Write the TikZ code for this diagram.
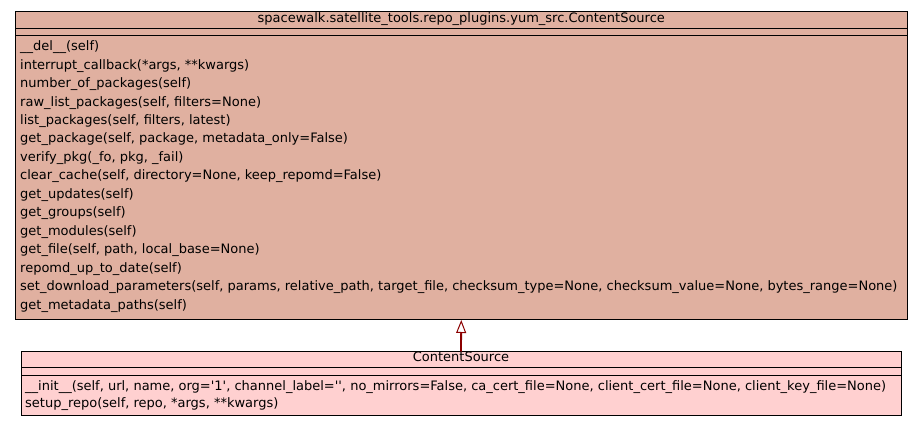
\documentclass[tikz,border=0pt]{standalone}
\usepackage{fontspec}
\setmainfont{DejaVu Sans}
\usetikzlibrary{arrows.meta}
\definecolor{topfill}{HTML}{E0B0A0}
\definecolor{botfill}{HTML}{FFD0D0}
\definecolor{edgecol}{HTML}{8B0000}
\definecolor{boxline}{HTML}{000000}
\tikzset{
  classbox/.style={draw=boxline, line width=1pt, inner sep=0pt, outer sep=0pt},
  sepline/.style={draw=boxline, line width=1pt},
  member/.style={anchor=base west, inner sep=0pt, font=\fontsize{13}{15}\selectfont},
  title/.style={anchor=base, inner sep=0pt, font=\fontsize{13}{15}\selectfont},
  inherit/.style={draw=edgecol, line width=1.8pt, -{Triangle[open, length=13pt, width=10pt, line width=1pt]}}
}
\newcommand{\sq}{\textquotesingle}
\begin{document}
\begin{tikzpicture}[x=1pt, y=-1pt]
\useasboundingbox (0,0) rectangle (923,427);
% top class
\node[classbox, fill=topfill, minimum width=891.5pt, minimum height=308pt] (base) at (461.25,166) {};
\draw[sepline] (15.5,29) -- (907,29);
\draw[sepline] (15.5,36) -- (907,36);
\node[title] (basetitle) at (461.25,22.7) {spacewalk.satellite\_tools.repo\_plugins.yum\_src.ContentSource};
\node[member] (m1) at (20,50.7) {\_\_del\_\_(self)};
\node[member] (m2) at (20,69.2) {interrupt\_callback(*args, **kwargs)};
\node[member] (m3) at (20,87.6) {number\_of\_packages(self)};
\node[member] (m4) at (20,106.1) {raw\_list\_packages(self, filters=None)};
\node[member] (m5) at (20,124.6) {list\_packages(self, filters, latest)};
\node[member] (m6) at (20,143.0) {get\_package(self, package, metadata\_only=False)};
\node[member] (m7) at (20,161.5) {verify\_pkg(\_fo, pkg, \_fail)};
\node[member] (m8) at (20,180.0) {clear\_cache(self, directory=None, keep\_repomd=False)};
\node[member] (m9) at (20,198.5) {get\_updates(self)};
\node[member] (m10) at (20,216.9) {get\_groups(self)};
\node[member] (m11) at (20,235.4) {get\_modules(self)};
\node[member] (m12) at (20,253.9) {get\_file(self, path, local\_base=None)};
\node[member] (m13) at (20,272.3) {repomd\_up\_to\_date(self)};
\node[member] (m14) at (20,290.8) {set\_download\_parameters(self, params, relative\_path, target\_file, checksum\_type=None, checksum\_value=None, bytes\_range=None)};
\node[member] (m15) at (20,309.3) {get\_metadata\_paths(self)};
% derived class
\node[classbox, fill=botfill, minimum width=880pt, minimum height=64pt] (derived) at (461,383.5) {};
\draw[sepline] (21,367.7) -- (901,367.7);
\draw[sepline] (21,375.8) -- (901,375.8);
\node[title] (dertitle) at (461,361.7) {ContentSource};
\node[member] (d1) at (25,390.7) {\_\_init\_\_(self, url, name, org=\sq1\sq, channel\_label=\sq\sq, no\_mirrors=False, ca\_cert\_file=None, client\_cert\_file=None, client\_key\_file=None)};
\node[member] (d2) at (25,407.7) {setup\_repo(self, repo, *args, **kwargs)};
% inheritance
\draw[inherit] (derived.north) -- (base.south);
\end{tikzpicture}
\end{document}
